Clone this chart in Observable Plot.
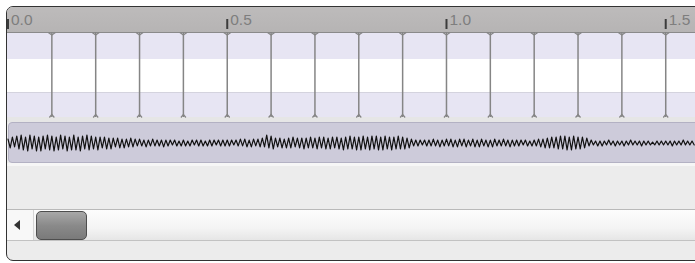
<!DOCTYPE html>
<html>
<head>
<meta charset="utf-8">
<script src="https://cdn.jsdelivr.net/npm/d3@7"></script>
<script src="https://cdn.jsdelivr.net/npm/@observablehq/plot@0.6"></script>
<style>
  html, body { margin: 0; padding: 0; background: #ffffff; }
  #page { position: relative; width: 695px; height: 263px; overflow: hidden; background: #fff; font-family: "Liberation Sans", Arial, sans-serif; }
  #frame { position: absolute; left: 6px; top: 6px; width: 740px; height: 253px; border: 1px solid #333; border-radius: 7px; overflow: hidden; background: #ececec; }
  .abs { position: absolute; }
  .abs svg { display: block; }
</style>
</head>
<body>
<div id="page">
  <div id="frame">
    <div class="abs" id="ruler" style="left:0;top:0;width:740px;height:25px;background:linear-gradient(#bdbbbb,#b6b4b4);"></div>
    <div class="abs" style="left:0;top:25px;width:740px;height:27px;background:#e7e5f3;"></div>
    <div class="abs" style="left:0;top:52px;width:740px;height:33px;background:#ffffff;"></div>
    <div class="abs" style="left:0;top:85px;width:740px;height:1px;background:#d4d3de;"></div>
    <div class="abs" style="left:0;top:86px;width:740px;height:24px;background:#e7e5f3;"></div>
    <div class="abs" style="left:0;top:24.5px;width:740px;height:1.5px;background:#8a8a8a;"></div>
    <div class="abs" style="left:0;top:110px;width:740px;height:5px;background:#e6e6e6;"></div>
    <div class="abs" style="left:1px;top:115px;width:760px;height:39px;background:#cdcbda;border:1px solid #b3b1c3;border-radius:4px;"></div>
    <div class="abs" style="left:0;top:156px;width:740px;height:3px;background:#f6f6f6;"></div>
    <div class="abs" style="left:0;top:202px;width:740px;height:1px;background:#b9b9b9;"></div>
    <div class="abs" style="left:0;top:203px;width:740px;height:30px;background:linear-gradient(#fdfdfd,#f4f4f4 60%,#e6e6e6);"></div>
    <div class="abs" style="left:0;top:233px;width:740px;height:1px;background:#c2c2c2;"></div>
    <div class="abs" style="left:0;top:203px;width:26px;height:30px;background:#f8f8f8;border-right:1px solid #d6d6d6;"></div>
    <div class="abs" style="left:7px;top:213px;width:0;height:0;border-top:5px solid transparent;border-bottom:5px solid transparent;border-right:6px solid #333;"></div>
    <div class="abs" style="left:29px;top:204px;width:49px;height:27px;border:1px solid #4e4e4e;border-radius:5px;background:linear-gradient(#a8a8a8,#8a8a8a 50%,#7a7a7a);"></div>
    <div class="abs" id="rulerAxis" style="left:-7px;top:0;"></div>
    <div class="abs" id="tiers" style="left:-7px;top:25px;"></div>
    <div class="abs" id="wave" style="left:-7px;top:115px;"></div>
  </div>
</div>
<script>
// ---- data ----
const rulerTicks = [0.0, 0.5, 1.0, 1.5];
const boundaries = [0.1, 0.2, 0.3, 0.4, 0.5, 0.6, 0.7, 0.8, 0.9, 1.0, 1.1, 1.2, 1.3, 1.4, 1.5];
const timeDomain = [0, 1.5679];
const sampleStep = 0.005;
const wave = [
  4,-5,6,-4,7,-6,8,-7,6,-8,8,-6,7,-8,6,-8,7,-6,8,-7,
  7,-8,6,-7,8,-6,7,-8,6,-7,8,-7,6,-8,7,-6,8,-7,7,-6,
  6,-7,6,-5,6,-6,5,-6,5,-4,5,-5,4,-5,4,-4,5,-4,4,-3,
  4,-3,3,-4,3,-3,4,-3,3,-3,3,-4,3,-3,3,-2,3,-3,2,-3,
  3,-3,2,-3,3,-2,3,-3,3,-3,2,-3,3,-3,3,-2,3,-3,3,-3,
  3,-3,3,-2,3,-3,4,-3,4,-4,3,-4,4,-3,4,-4,5,-4,8,-5,
  7,-6,5,-4,5,-5,4,-5,5,-5,6,-4,5,-5,5,-6,5,-5,6,-5,
  5,-6,6,-5,6,-6,5,-6,6,-5,6,-6,5,-7,6,-6,7,-6,6,-7,
  6,-7,7,-6,6,-7,7,-6,7,-7,6,-7,7,-6,6,-7,6,-6,7,-6,
  6,-6,5,-5,4,-3,3,-3,3,-2,3,-3,3,-3,4,-3,3,-4,3,-3,
  4,-3,4,-4,3,-4,4,-3,4,-4,3,-3,4,-4,3,-4,4,-3,3,-4,
  3,-4,4,-3,3,-3,4,-3,3,-4,3,-3,3,-3,3,-2,3,-3,2,-3,
  3,-3,4,-4,4,-5,5,-5,6,-5,6,-6,7,-6,7,-7,6,-7,7,-6,
  6,-6,6,-5,5,-3,3,-2,2,-3,2,-3,2,-2,3,-2,2,-3,2,-2,
  2,-3,2,-2,3,-2,2,-2,2,-3,2,-2,2,-2,1,-2,2,-2,2,-2,
  2,-2,2,-3,2,-2,2,-2,3,-2,2,-2,2,-2
];
const waveTable = wave.map((v, i) => ({t: i * sampleStep, v}));

const common = {width: 695, marginLeft: 7.5, marginRight: 0};

// ruler
const ruler = Plot.plot({
  ...common, height: 21, marginTop: 21, marginBottom: 0,
  x: {domain: timeDomain},
  style: {fontFamily: "'Liberation Sans', Arial, sans-serif", background: "transparent", overflow: "visible"},
  marks: [
    Plot.axisX({anchor: "top", ticks: rulerTicks, tickFormat: d => d.toFixed(1), tickSize: 0,
      tickPadding: 4, textAnchor: "start", dx: 3, fontSize: 15.5, fill: "#7e7e7e", label: null}),
    Plot.axisX({anchor: "top", ticks: rulerTicks, tickSize: 10, text: null, stroke: "#3c3c3c", strokeWidth: 2, label: null})
  ]
});
document.getElementById("rulerAxis").appendChild(ruler);

// tier boundaries
const vDown = {draw(ctx) { ctx.moveTo(-3.5, 0); ctx.lineTo(0, 2.5); ctx.lineTo(3.5, 0); }};
const vUp = {draw(ctx) { ctx.moveTo(-2.5, 0); ctx.lineTo(0, -3); ctx.lineTo(2.5, 0); }};
const tiers = Plot.plot({
  ...common, height: 85, marginTop: 0, marginBottom: 0,
  x: {domain: timeDomain, axis: null},
  style: {background: "transparent", overflow: "visible"},
  marks: [
    Plot.ruleX(boundaries, {stroke: "#858585", strokeWidth: 1.5}),
    Plot.dot(boundaries, {x: d => d, frameAnchor: "top", symbol: vDown, stroke: "#858585", strokeWidth: 1.4, fill: "none"}),
    Plot.dot(boundaries, {x: d => d, frameAnchor: "bottom", symbol: vUp, stroke: "#858585", strokeWidth: 1.2, fill: "none"})
  ]
});
document.getElementById("tiers").appendChild(tiers);

// waveform
const wv = Plot.plot({
  ...common, height: 40, marginTop: 1, marginBottom: 0,
  x: {domain: timeDomain, axis: null},
  y: {domain: [-20, 20], axis: null},
  style: {background: "transparent", overflow: "visible"},
  marks: [
    Plot.line(waveTable, {x: "t", y: "v", stroke: "#111", strokeWidth: 1.2})
  ]
});
document.getElementById("wave").appendChild(wv);
</script>
</body>
</html>
